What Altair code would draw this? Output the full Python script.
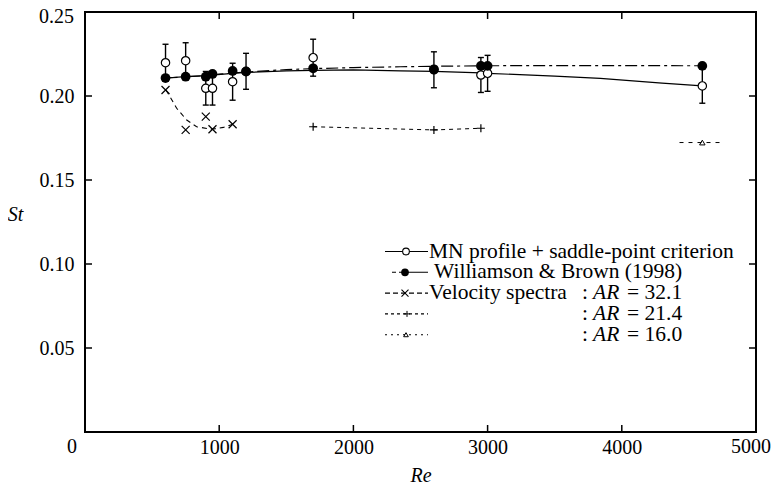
import altair as alt
import pandas as pd

FONT = "Liberation Serif"

# ---------------- data ----------------
# MN profile + saddle-point criterion (open circles, with error bars)
mn_re = [600, 750, 900, 950, 1100, 1200, 1700, 2600, 2950, 3000, 4600]
mn_st = [0.2198, 0.2210, 0.2046, 0.2046, 0.2085, 0.2147, 0.2228, 0.2156, 0.2125, 0.2135, 0.2060]
mn_err = [0.0110, 0.0107, 0.0100, 0.0100, 0.0110, 0.0107, 0.0110, 0.0107, 0.0104, 0.0107, 0.0103]
# smooth curve drawn through MN data (solid)
mn_fit_re = [600, 750, 900, 1100, 1200, 1500, 1700, 2000, 2350, 2600, 2950, 3000, 3500, 3840, 4300, 4600]
mn_fit_st = [0.2107, 0.2115, 0.2121, 0.2135, 0.2140, 0.2149, 0.2152, 0.2155, 0.2150, 0.2146,
             0.2138, 0.2135, 0.2118, 0.2105, 0.2077, 0.2060]

# Williamson & Brown (1998) (filled circles)
wb_re = [600, 750, 900, 950, 1100, 1200, 1700, 2600, 2950, 3000, 4600]
wb_st = [0.2107, 0.2115, 0.2115, 0.2131, 0.2149, 0.2145, 0.2165, 0.2159, 0.2179, 0.2179, 0.2179]
wb_fit_re = [600, 750, 900, 1000, 1200, 1500, 1700, 2000, 2350, 2600, 3000, 3500, 4600]
wb_fit_st = [0.2107, 0.2114, 0.2121, 0.2130, 0.2143, 0.2157, 0.2163, 0.2169, 0.2174, 0.2177,
             0.2180, 0.2181, 0.2180]

# Velocity spectra, AR = 32.1 (crosses)
vs32_re = [600, 750, 900, 950, 1100]
vs32_st = [0.2036, 0.1798, 0.1877, 0.1802, 0.1832]
vs32_fit_re = [604, 683, 758, 832, 944, 1031, 1101]
vs32_fit_st = [0.2036, 0.1927, 0.1857, 0.1817, 0.1802, 0.1813, 0.1832]

# Velocity spectra, AR = 21.4 (plus)
vs21_re = [1700, 2600, 2950]
vs21_st = [0.1817, 0.1798, 0.1808]

# Velocity spectra, AR = 16.0 (triangle)
vs16_re = [4600]
vs16_st = [0.1723]
vs16_seg_re = [4430, 4745]
vs16_seg_st = [0.1723, 0.1723]

x_tick_vals = [1000, 2000, 3000, 4000]
y_tick_vals = [0.05, 0.10, 0.15, 0.20]
x_label_vals = [1000, 2000, 3000, 4000]
x_last_label = "5000"
y_label_vals = [0.05, 0.10, 0.15, 0.20]
y_top_label = "0.25"

legend_labels = ["MN profile + saddle-point criterion", "Williamson & Brown (1998)",
                 "Velocity spectra", "", ""]
legend_ar = ["", "", "32.1", "21.4", "16.0"]

# ---------------- tables ----------------
mn = pd.DataFrame({"Re": mn_re, "St": mn_st, "err": mn_err})
mn["lo"] = mn["St"] - mn["err"]
mn["hi"] = mn["St"] + mn["err"]
mn_fit = pd.DataFrame({"Re": mn_fit_re, "St": mn_fit_st})
wb = pd.DataFrame({"Re": wb_re, "St": wb_st})
wb_fit = pd.DataFrame({"Re": wb_fit_re, "St": wb_fit_st})
vs32 = pd.DataFrame({"Re": vs32_re, "St": vs32_st})
vs32_fit = pd.DataFrame({"Re": vs32_fit_re, "St": vs32_fit_st})
vs21 = pd.DataFrame({"Re": vs21_re, "St": vs21_st})
vs16 = pd.DataFrame({"Re": vs16_re, "St": vs16_st})
vs16_seg = pd.DataFrame({"Re": vs16_seg_re, "St": vs16_seg_st})
xt = pd.DataFrame({"Re": x_tick_vals})
yt = pd.DataFrame({"St": y_tick_vals})

W, H = 671, 420
PAD = {"left": 77, "top": 4, "right": 16, "bottom": 57}

xs = alt.Scale(domain=[0, 5000], nice=False, zero=False)
ys = alt.Scale(domain=[0, 0.25], nice=False, zero=False)

xax = alt.Axis(values=x_label_vals, format="d", ticks=False, domain=False, grid=False,
               labelFont=FONT, labelFontSize=20, labelColor="black", labelPadding=5,
               labelFlush=False, labelOverlap=False,
               titleFont=FONT, titleFontSize=20, titleFontStyle="italic", titleFontWeight="normal",
               titleColor="black", titleX=W / 2, titleY=43, titleBaseline="middle")
yax = alt.Axis(values=y_label_vals, format=".2f", ticks=False, domain=False, grid=False,
               labelFont=FONT, labelFontSize=20, labelColor="black", labelPadding=11,
               labelFlush=False, labelOverlap=False,
               titleFont=FONT, titleFontSize=20, titleFontStyle="italic", titleFontWeight="normal",
               titleColor="black", titleAngle=0, titleX=-70, titleY=202,
               titleAlign="center", titleBaseline="middle")


def X(f="Re"):
    return alt.X(f"{f}:Q", scale=xs, axis=xax, title="Re")


def Y(f="St"):
    return alt.Y(f"{f}:Q", scale=ys, axis=yax, title="St")


CROSS = "M-1,-1L1,1M-1,1L1,-1"
PLUS = "M-1,0L1,0M0,-1L0,1"
CAP = "M-1,0L1,0"

layers = []

# ticks (inward) on all four sides
layers.append(alt.Chart(xt).mark_rule(color="black", strokeWidth=1.5).encode(
    x=X(), y=alt.value(H), y2=alt.value(H - 7)))
layers.append(alt.Chart(xt).mark_rule(color="black", strokeWidth=1.5).encode(
    x=X(), y=alt.value(0), y2=alt.value(7)))
layers.append(alt.Chart(yt).mark_rule(color="black", strokeWidth=1.5).encode(
    y=Y(), x=alt.value(0), x2=alt.value(7)))
layers.append(alt.Chart(yt).mark_rule(color="black", strokeWidth=1.5).encode(
    y=Y(), x=alt.value(W), x2=alt.value(W - 7)))

# curves
layers.append(alt.Chart(vs32_fit).mark_line(color="black", strokeWidth=1.1, strokeDash=[5, 4]).encode(
    x=X(), y=Y(), order="Re:Q"))
layers.append(alt.Chart(vs21).mark_line(color="black", strokeWidth=1.0, strokeDash=[4, 4]).encode(
    x=X(), y=Y(), order="Re:Q"))
layers.append(alt.Chart(vs16_seg).mark_line(color="black", strokeWidth=1.0, strokeDash=[4, 5]).encode(
    x=X(), y=Y(), order="Re:Q"))
layers.append(alt.Chart(wb_fit).mark_line(color="black", strokeWidth=1.2, strokeDash=[12, 4, 3, 4]).encode(
    x=X(), y=Y(), order="Re:Q"))
layers.append(alt.Chart(mn_fit).mark_line(color="black", strokeWidth=1.2).encode(
    x=X(), y=Y(), order="Re:Q"))

# error bars
layers.append(alt.Chart(mn).mark_rule(color="black", strokeWidth=1.4).encode(
    x=X(), y=Y("lo"), y2="hi:Q"))
layers.append(alt.Chart(mn).mark_point(shape=CAP, size=36, color="black", strokeWidth=1.4, opacity=1).encode(
    x=X(), y=Y("lo")))
layers.append(alt.Chart(mn).mark_point(shape=CAP, size=36, color="black", strokeWidth=1.4, opacity=1).encode(
    x=X(), y=Y("hi")))

# markers
layers.append(alt.Chart(mn).mark_point(shape="circle", size=70, filled=True, fill="white",
                                       stroke="black", strokeWidth=1.2, opacity=1).encode(x=X(), y=Y()))
layers.append(alt.Chart(wb).mark_point(shape="circle", size=95, filled=True, color="black",
                                       opacity=1).encode(x=X(), y=Y()))
layers.append(alt.Chart(vs32).mark_point(shape=CROSS, size=64, color="black", strokeWidth=1.2,
                                         opacity=1).encode(x=X(), y=Y()))
layers.append(alt.Chart(vs21).mark_point(shape=PLUS, size=64, color="black", strokeWidth=1.2,
                                         opacity=1).encode(x=X(), y=Y()))
layers.append(alt.Chart(vs16).mark_point(shape="triangle-up", size=30, color="black", strokeWidth=1.0,
                                         opacity=1).encode(x=X(), y=Y()))

# ---------------- legend (pixel positions inside the plot area) ----------------
one = alt.Data(values=[{}])
row_y = [239.5, 260.3, 281.1, 301.9, 322.7]
line_x0 = [300, 307, 300, 300, 300]
line_x1 = 343
mark_x = [321, 320, 320, 322, 321]
dashes = [None, [4, 3, 40, 1], [5, 3], [3, 3], [2, 4]]
text_x = [344, 349, 344, 344, 344]
LFS = 21.5

for i in range(5):
    rk = dict(color="black", strokeWidth=1.1)
    if dashes[i] is not None:
        rk["strokeDash"] = dashes[i]
    layers.append(alt.Chart(one).mark_rule(**rk).encode(
        x=alt.value(line_x0[i]), x2=alt.value(line_x1), y=alt.value(row_y[i])))

lm = [
    alt.Chart(one).mark_point(shape="circle", size=45, filled=True, fill="white", stroke="black",
                              strokeWidth=1.1, opacity=1),
    alt.Chart(one).mark_point(shape="circle", size=60, filled=True, color="black", opacity=1),
    alt.Chart(one).mark_point(shape=CROSS, size=49, color="black", strokeWidth=1.1, opacity=1),
    alt.Chart(one).mark_point(shape=PLUS, size=36, color="black", strokeWidth=1.0, opacity=1),
    alt.Chart(one).mark_point(shape="triangle-up", size=22, color="black", strokeWidth=1.0, opacity=1),
]
for i in range(5):
    layers.append(lm[i].encode(x=alt.value(mark_x[i]), y=alt.value(row_y[i])))

for i in range(5):
    if legend_labels[i]:
        layers.append(alt.Chart(one).mark_text(align="left", baseline="middle", font=FONT,
                                               fontSize=LFS, color="black").encode(
            x=alt.value(text_x[i]), y=alt.value(row_y[i]), text=alt.value(legend_labels[i])))
    if legend_ar[i]:
        ax0 = 497
        layers.append(alt.Chart(one).mark_text(align="left", baseline="middle", font=FONT,
                                               fontSize=LFS, color="black").encode(
            x=alt.value(ax0), y=alt.value(row_y[i]), text=alt.value(":")))
        layers.append(alt.Chart(one).mark_text(align="left", baseline="middle", font=FONT,
                                               fontSize=LFS, fontStyle="italic", color="black").encode(
            x=alt.value(ax0 + 11), y=alt.value(row_y[i]), text=alt.value("AR")))
        layers.append(alt.Chart(one).mark_text(align="left", baseline="middle", font=FONT,
                                               fontSize=LFS, color="black").encode(
            x=alt.value(ax0 + 45), y=alt.value(row_y[i]), text=alt.value("= " + legend_ar[i])))

# corner "0" label shared by both axes, top y label and last x label
layers.append(alt.Chart(one).mark_text(align="center", baseline="middle", font=FONT, fontSize=20,
                                       color="black").encode(
    x=alt.value(-13), y=alt.value(435), text=alt.value("0")))
layers.append(alt.Chart(one).mark_text(align="right", baseline="middle", font=FONT, fontSize=20,
                                       color="black").encode(
    x=alt.value(-11), y=alt.value(5), text=alt.value(y_top_label)))
layers.append(alt.Chart(one).mark_text(align="right", baseline="middle", font=FONT, fontSize=20,
                                       color="black").encode(
    x=alt.value(W + PAD["right"] - 1), y=alt.value(435), text=alt.value(x_last_label)))

chart = alt.layer(*layers).properties(
    width=W, height=H,
    autosize=alt.AutoSizeParams(type="none"),
    padding=PAD,
    background="white",
).configure_view(stroke="black", strokeWidth=2)

chart.save("out.html", embed_options={"renderer": "svg", "actions": False})
